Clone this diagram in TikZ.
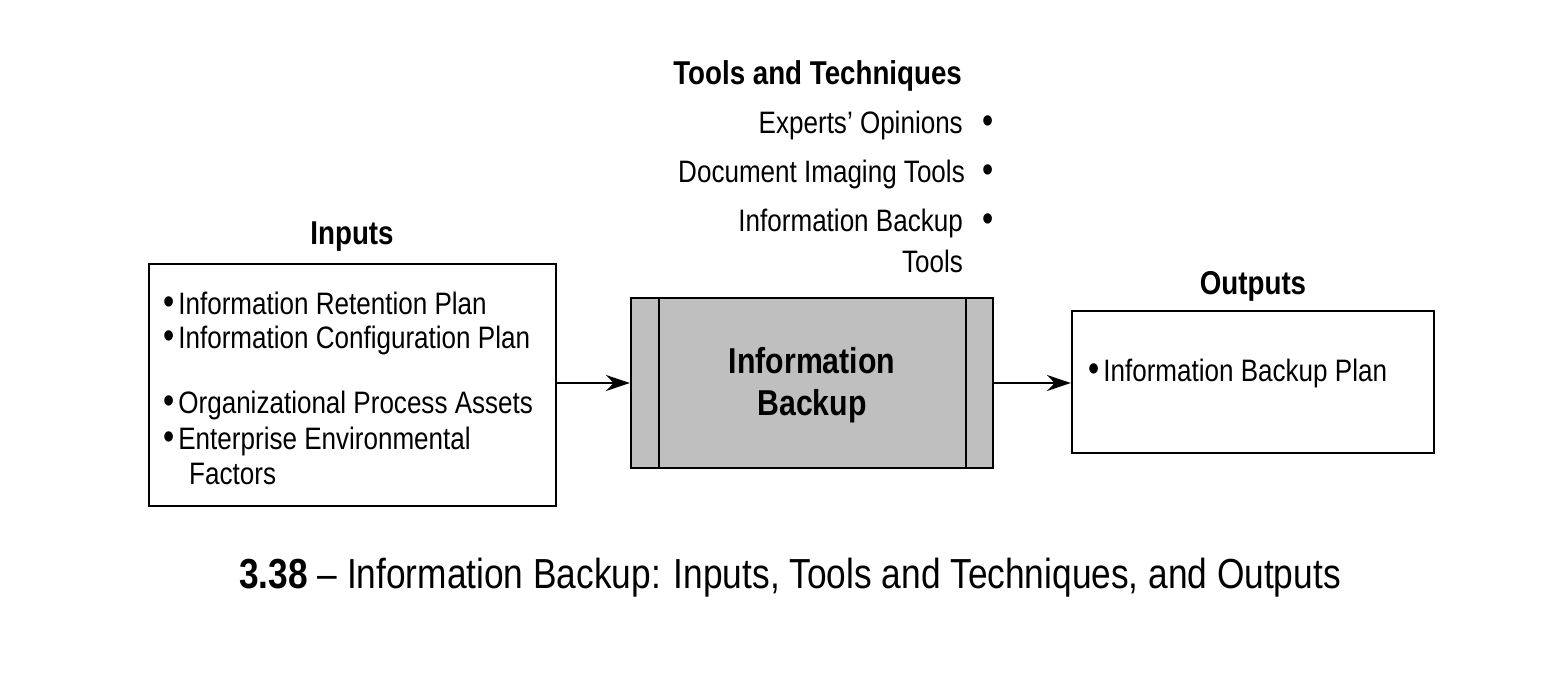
\documentclass[tikz,border=0pt]{standalone}
\usetikzlibrary{arrows.meta}
\usepackage{fontspec}
\setmainfont{Liberation Sans}[FakeStretch=0.84]
\newcommand{\bul}{{\fontsize{38}{32}\selectfont\textbullet}\hspace{4pt}}
\begin{document}
\begin{tikzpicture}[x=1pt,y=-1pt,
  box/.style={draw,line width=2.2pt},
  txt/.style={font=\fontsize{31}{36}\selectfont,inner sep=0pt},
  ttl/.style={font=\fontsize{33}{36}\selectfont\bfseries,inner sep=0pt},
  arr/.style={-{Stealth[length=24pt,width=16pt]},line width=2.4pt}]
\useasboundingbox (0,0) rectangle (1557,688);
\fill[white] (0,0) rectangle (1557,688);
% inputs
\node[ttl] (tin) at (352,237) {Inputs};
\node[box,minimum width=407pt,minimum height=242pt,inner sep=0pt] (in) at (352.5,385) {};
\node[txt,anchor=west] (i1) at (163,303) {\bul Information Retention Plan};
\node[txt,anchor=west] (i2) at (163,340) {\bul Information Configuration Plan};
\node[txt,anchor=west] (i3) at (163,405) {\bul Organizational Process Assets};
\node[txt,anchor=west] (i4) at (163,441) {\bul Enterprise Environmental};
\node[txt,anchor=west] (i5) at (189,474) {Factors};
% process
\node[box,fill=gray!50,minimum width=362pt,minimum height=170pt,inner sep=0pt] (p) at (812,383) {};
\draw[line width=2.2pt] (659,298) -- (659,468) (966,298) -- (966,468);
\node[ttl,align=center,font=\fontsize{36}{42}\selectfont\bfseries] (pt) at (812,385) {Information\\Backup};
% outputs
\node[ttl] (tout) at (1253,286) {Outputs};
\node[box,minimum width=362pt,minimum height=142pt,inner sep=0pt] (out) at (1253,382) {};
\node[txt,anchor=west] (o1) at (1088,373) {\bul Information Backup Plan};
% tools
\node[ttl,anchor=east] (tt) at (962,76) {Tools and Techniques};
\node[txt,anchor=east] (t1) at (963,125) {Experts’ Opinions};
\node[txt,anchor=east] (t2) at (965,174) {Document Imaging Tools};
\node[txt,anchor=east] (t3) at (963,223) {Information Backup};
\node[txt,anchor=east] (t4) at (963,261) {Tools};
\node[txt,font=\fontsize{38}{32}\selectfont] (b1) at (988,125) {\textbullet};
\node[txt,font=\fontsize{38}{32}\selectfont] (b2) at (988,174) {\textbullet};
\node[txt,font=\fontsize{38}{32}\selectfont] (b3) at (988,223) {\textbullet};
% arrows
\draw[arr] (in.east |- 0,383) -- (p.west |- 0,383);
\draw[arr] (p.east |- 0,383) -- (out.west |- 0,383);
% caption
\node[inner sep=0pt,font=\fontsize{42}{48}\selectfont] (cap) at (790,578) {\textbf{3.38} – Information Backup: Inputs, Tools and Techniques, and Outputs};
\end{tikzpicture}
\end{document}
